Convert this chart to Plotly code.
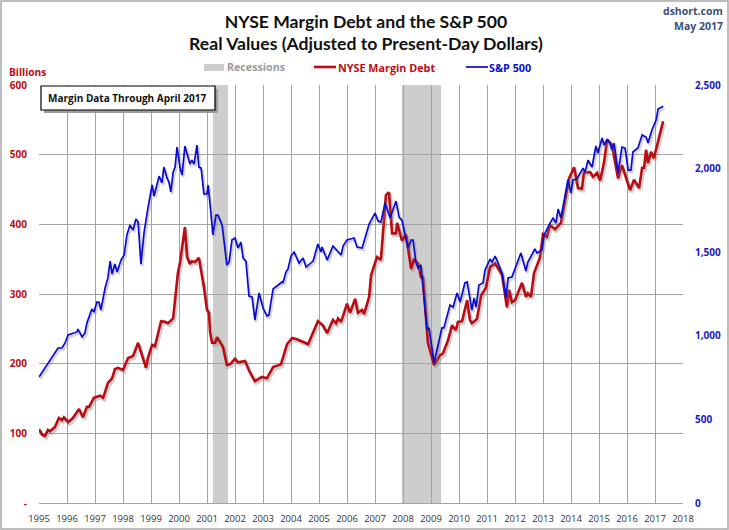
import plotly.graph_objects as go

# values
margin_years = [1995.00,1995.11,1995.21,1995.32,1995.39,1995.57,1995.71,1995.82,1995.89,1996.04,1996.21,1996.43,1996.57,1996.71,1996.79,1996.96,
    1997.18,1997.29,1997.46,1997.61,1997.71,1997.82,1998.00,1998.18,1998.36,1998.54,1998.68,1998.82,1998.89,1999.04,1999.14,1999.29,1999.36,1999.50,1999.61,1999.79,1999.96,
    2000.04,2000.21,2000.29,2000.39,2000.46,2000.57,2000.71,2000.89,2001.00,2001.07,2001.11,2001.18,2001.29,2001.36,2001.57,2001.71,2001.82,
    2002.00,2002.11,2002.36,2002.46,2002.54,2002.71,2002.96,2003.14,2003.36,2003.64,2003.86,2004.04,2004.21,2004.50,2004.61,2004.96,
    2005.14,2005.29,2005.50,2005.61,2005.68,2005.79,2006.00,2006.11,2006.29,2006.39,2006.54,2006.61,2006.79,2006.86,2007.07,2007.21,2007.39,2007.50,2007.61,2007.75,2007.79,2007.96,
    2008.11,2008.29,2008.39,2008.54,2008.64,2008.71,2008.89,2009.11,2009.32,2009.43,2009.61,2009.75,2009.89,2009.96,2010.11,2010.29,2010.39,2010.46,2010.64,2010.79,2010.96,
    2011.11,2011.29,2011.54,2011.71,2011.79,2011.89,2012.00,2012.25,2012.39,2012.46,2012.57,2012.68,2012.89,2013.00,2013.14,2013.25,2013.43,2013.64,2013.93,
    2014.11,2014.25,2014.39,2014.46,2014.68,2014.79,2014.93,2015.04,2015.18,2015.29,2015.46,2015.68,2015.82,2016.11,2016.25,2016.43,2016.54,2016.61,2016.68,2016.75,2016.86,2016.96,2017.29]
margin_debt = [106,98,96,105,103,109,122,119,123,116,122,135,123,138,138,151,
    154,151,172,179,192,194,191,208,211,230,212,194,208,227,225,253,261,260,258,265,330,
    346,396,353,343,347,346,352,310,277,273,245,230,230,238,224,198,199,
    207,202,204,194,187,175,181,179,195,199,228,237,235,230,228,261,
    255,244,263,258,265,260,286,273,293,273,277,271,296,327,353,349,442,446,387,387,402,377,
    385,336,349,344,324,324,230,198,212,215,234,255,248,260,261,291,263,258,264,298,309,
    339,344,327,281,306,288,291,316,296,301,296,330,352,386,382,399,393,402,466,
    482,452,451,474,475,468,474,463,489,522,514,466,485,449,464,452,481,481,507,488,504,495,548]

sp_years = [1995.00,1995.39,1995.57,1995.68,1995.82,1995.93,1996.04,1996.21,1996.36,1996.39,1996.54,1996.64,1996.71,1996.89,1996.96,
    1997.07,1997.14,1997.21,1997.36,1997.46,1997.54,1997.61,1997.71,1997.79,1997.93,1998.04,1998.14,1998.25,1998.36,1998.46,1998.54,1998.64,1998.75,1998.89,
    1999.04,1999.11,1999.29,1999.39,1999.46,1999.57,1999.64,1999.71,1999.79,1999.86,1999.93,2000.04,2000.11,2000.21,2000.39,2000.46,2000.54,2000.64,2000.71,2000.79,2000.89,
    2001.00,2001.04,2001.14,2001.21,2001.32,2001.39,2001.54,2001.61,2001.71,2001.79,2001.89,2002.00,2002.11,2002.21,2002.29,2002.39,2002.50,2002.61,2002.71,2002.86,
    2003.00,2003.14,2003.21,2003.36,2003.68,2003.71,2003.82,2003.89,2004.00,2004.11,2004.29,2004.43,2004.54,2004.79,2004.96,
    2005.07,2005.11,2005.29,2005.50,2005.79,2005.86,2006.00,2006.25,2006.36,2006.54,2006.79,2007.00,2007.11,2007.21,2007.36,2007.54,2007.75,2007.86,2007.96,
    2008.18,2008.29,2008.36,2008.46,2008.54,2008.64,2008.71,2008.86,2008.93,2009.11,2009.39,2009.46,2009.68,2009.79,2009.93,
    2010.04,2010.21,2010.29,2010.46,2010.54,2010.61,2010.71,2010.86,2010.93,2011.11,2011.18,2011.29,2011.54,2011.68,2011.75,2011.89,
    2012.21,2012.39,2012.46,2012.71,2012.79,2012.96,2013.04,2013.25,2013.36,2013.46,2013.54,2013.64,2013.79,2013.89,
    2014.00,2014.07,2014.21,2014.43,2014.50,2014.61,2014.75,2014.89,2014.96,2015.11,2015.18,2015.29,2015.39,2015.46,2015.54,2015.68,2015.82,2015.93,
    2016.04,2016.14,2016.21,2016.39,2016.54,2016.68,2016.75,2016.89,2017.04,2017.11,2017.25,2017.29]
sp500 = [753,855,897,927,927,957,1005,1017,1023,1040,993,1017,1076,1160,1142,
    1202,1202,1154,1286,1346,1447,1369,1429,1381,1453,1483,1603,1662,1633,1698,1680,1429,1615,1764,
    1902,1836,1955,1914,2009,1944,1920,1860,1979,2009,2129,2003,1961,2135,2027,2051,2027,2141,2009,2003,1848,
    1848,1902,1734,1603,1722,1722,1662,1561,1423,1441,1573,1585,1525,1561,1465,1447,1238,1232,1094,1256,
    1166,1118,1124,1280,1322,1316,1381,1399,1477,1501,1435,1465,1411,1447,1549,
    1501,1531,1453,1537,1483,1537,1573,1585,1531,1525,1668,1734,1686,1680,1794,1704,1806,1710,1692,
    1525,1573,1573,1441,1405,1423,1292,1035,1047,837,1047,1047,1184,1172,1256,
    1202,1316,1322,1154,1226,1172,1304,1316,1393,1459,1441,1477,1375,1226,1346,1351,
    1495,1387,1441,1519,1495,1513,1603,1674,1704,1674,1758,1704,1830,1932,
    1854,1932,1938,2003,1979,2051,2009,2135,2093,2183,2141,2171,2153,2111,2153,1973,2129,2123,
    1991,1991,2099,2123,2201,2189,2153,2231,2290,2356,2368,2374]

recessions = [(2001.21, 2001.75), (2007.96, 2009.36)]
year_ticks = list(range(1995, 2019))
left_ticks = [0, 100, 200, 300, 400, 500, 600]
left_labels = ["-", "100", "200", "300", "400", "500", "600"]
right_ticks = [0, 500, 1000, 1500, 2000, 2500]

RED = "#b80d14"
BLUE = "#0a0ad2"
GRID = "#a3a3a3"
RECESSION = "#cdcdcd"
W, H = 729, 530
L, R, T, B = 39, 683, 85, 503


def px(x):
    return (x - L) / (R - L)


def py(y):
    return (B - y) / (B - T)


fig = go.Figure()

# soft drop shadow under each line, like the original
fig.add_trace(go.Scatter(x=[v + 0.05 for v in margin_years], y=[v - 3 for v in margin_debt], mode="lines",
                         line=dict(color="rgba(120,120,120,0.35)", width=3.5), hoverinfo="skip", showlegend=False))
fig.add_trace(go.Scatter(x=margin_years, y=margin_debt, mode="lines", name="NYSE Margin Debt",
                         line=dict(color=RED, width=2.6), showlegend=False))
fig.add_trace(go.Scatter(x=[v + 0.05 for v in sp_years], y=[v - 12 for v in sp500], mode="lines", yaxis="y2",
                         line=dict(color="rgba(120,120,120,0.3)", width=2.5), hoverinfo="skip", showlegend=False))
fig.add_trace(go.Scatter(x=sp_years, y=sp500, mode="lines", name="S&P 500", yaxis="y2",
                         line=dict(color=BLUE, width=1.7), showlegend=False))

for start, end in recessions:
    fig.add_vrect(x0=start, x1=end, fillcolor=RECESSION, line_width=0, layer="below")

tick_font = dict(family="Open Sans", size=9.5, color="#333333")
fig.update_layout(
    width=W, height=H, autosize=False,
    margin=dict(l=L, r=W - R, t=T, b=H - B),
    paper_bgcolor="white", plot_bgcolor="white",
    showlegend=False,
    title=dict(text="<b>NYSE Margin Debt and the S&P 500<br>Real Values (Adjusted to Present-Day Dollars)</b>",
               x=0.502, xanchor="center", yref="container", y=0.948, yanchor="top", automargin=False,
               font=dict(family="Lato", size=17.6, color="#111111")),
    xaxis=dict(range=[1995, 2018], tickmode="array", tickvals=year_ticks, showgrid=True, gridcolor=GRID,
               gridwidth=1.3, showline=True, linecolor=GRID, linewidth=1.3, ticks="", tickfont=tick_font,
               zeroline=False, ticklabelstandoff=6, tickangle=0, automargin=False),
    yaxis=dict(range=[0, 600], tickmode="array", tickvals=left_ticks, ticktext=left_labels, showgrid=True,
               gridcolor=GRID, gridwidth=1.1, zeroline=False, ticks="", ticklabelstandoff=11, automargin=False,
               tickfont=dict(family="Open Sans", size=10, color=RED, weight="bold")),
    yaxis2=dict(range=[0, 2500], overlaying="y", side="right", tickmode="array", tickvals=right_ticks,
                tickformat=",", showgrid=False, zeroline=False, ticks="", ticklabelstandoff=11, automargin=False,
                tickfont=dict(family="Open Sans", size=10, color="#1a1ac0", weight="bold")),
)


def label(text, x, y, color, size=10.5, anchor="left", family="Open Sans"):
    fig.add_annotation(text="<b>%s</b>" % text, xref="paper", yref="paper", x=px(x), y=py(y), showarrow=False,
                       xanchor=anchor, yanchor="middle", font=dict(family=family, size=size, color=color))


# image frame
fig.add_shape(type="rect", xref="paper", yref="paper", x0=px(1), x1=px(728), y0=py(529), y1=py(1),
              line=dict(color="#a8a8a8", width=1.5), layer="below")

# hand made legend row, text is coloured per item
fig.add_shape(type="rect", xref="paper", yref="paper", x0=px(204), x1=px(224), y0=py(71), y1=py(64),
              fillcolor=RECESSION, line_width=0)
fig.add_shape(type="line", xref="paper", yref="paper", x0=px(314), x1=px(336), y0=py(67), y1=py(67),
              line=dict(color=RED, width=2.6))
fig.add_shape(type="line", xref="paper", yref="paper", x0=px(466), x1=px(488), y0=py(67), y1=py(67),
              line=dict(color=BLUE, width=1.7))
label("Recessions", 225, 67, "#9a9a9a", size=10.7)
label("NYSE Margin Debt", 336, 67, RED, size=10.8)
label("S&P 500", 487, 67, BLUE, size=10.8)

label("Billions", 7, 72, RED, size=10.2)
label("dshort.com", 725, 11, "#3a4f7a", anchor="right", size=10.5)
label("May 2017", 725, 26, "#3a4f7a", anchor="right", size=10.5)

# note box with shadow
fig.add_shape(type="rect", xref="paper", yref="paper", x0=px(44), x1=px(218), y0=py(113), y1=py(89),
              fillcolor="#9c9c9c", line_width=0)
fig.add_shape(type="rect", xref="paper", yref="paper", x0=px(41), x1=px(215), y0=py(110), y1=py(86),
              fillcolor="white", line=dict(color="black", width=1.2))
label("Margin Data Through April 2017", 127, 98, "#111111", anchor="center", size=10)

# the page's default body margin would push the figure 8px in
fig.write_html("out.html", config={"displayModeBar": False},
               post_script="document.body.style.margin='0';document.body.style.overflow='hidden';")
